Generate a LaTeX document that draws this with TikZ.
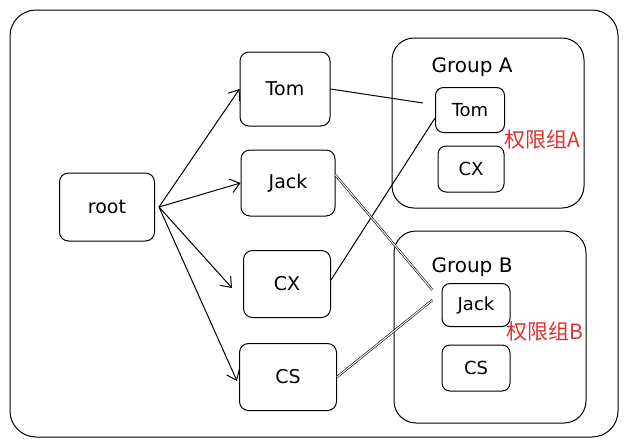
\documentclass[tikz,border=0pt]{standalone}
\usepackage{fontspec}
\setmainfont{DejaVu Sans}
\newfontfamily\cjk{Noto Sans CJK SC}
\usetikzlibrary{arrows.meta,positioning}
\definecolor{permred}{RGB}{224, 49, 49}

\begin{document}
\begin{tikzpicture}[x=1pt,y=-1pt,line width=1pt,
  card/.style={draw,rounded corners=9pt,minimum width=92pt,minimum height=68pt,font=\fontsize{19}{21}\selectfont},
  member/.style={draw,rounded corners=8pt,minimum width=68pt,minimum height=46pt,font=\fontsize{18}{20}\selectfont},
  grp/.style={draw,rounded corners=22pt},
  grptitle/.style={font=\fontsize{20}{22}\selectfont},
  permlabel/.style={text=permred,font=\cjk\fontsize{21}{23}\selectfont},
  link/.style={-{Straight Barb[length=9pt,width=14pt]}}]
\useasboundingbox (0,0) rectangle (628,445);
% outer frame
\draw[rounded corners=26pt] (10,10) rectangle (618,437);

% users
\node[card,minimum width=95pt] (root) at (107,207) {root};
\node[card,minimum width=90pt,minimum height=74pt] (tom) at (285,89) {Tom};
\node[card,minimum width=94pt,minimum height=66pt] (jack) at (288,183) {Jack};
\node[card,minimum width=87pt,minimum height=67pt] (cx) at (287,284) {CX};
\node[card,minimum width=97pt,minimum height=67pt] (cs) at (288,377) {CS};

% Group A
\node[grp,minimum width=192pt,minimum height=170pt] (groupA) at (488,123) {};
\node[grptitle] (titleA) at (472,67) {Group A};
\node[member,minimum width=69pt,minimum height=45pt] (tomA) at (470,110) {Tom};
\node[member,minimum width=66pt,minimum height=46pt] (cxA) at (471,169) {CX};
\node[permlabel] (permA) at (542,140) {权限组A};

% Group B
\node[grp,minimum width=192pt,minimum height=192pt] (groupB) at (490,327) {};
\node[grptitle] (titleB) at (472,267) {Group B};
\node[member,minimum width=68pt,minimum height=43pt] (jackB) at (476,305) {Jack};
\node[member,minimum width=68pt,minimum height=46pt] (csB) at (476,368) {CS};
\node[permlabel] (permB) at (545,332) {权限组B};

% root to users
\coordinate (out) at ([xshift=4pt]root.east);
\draw[link] (out) -- (tom.west);
\draw[link] (out) -- (jack.west);
\draw[link] (out) -- ([xshift=-11pt,yshift=-4pt]cx.west);
\draw[link] (out) -- ([xshift=-2pt,yshift=-4pt]cs.west);

% users to group members
\coordinate (endTom) at ([xshift=-12pt,yshift=7pt]tomA.west);
\draw (tom.east) -- (endTom);
\draw ([yshift=4pt]cx.east) -- ([yshift=-8pt]tomA.west);
\draw[double,double distance=1pt,line width=0.6pt] ([yshift=8pt]jack.east) -- ([xshift=-9pt,yshift=15pt]jackB.west);
\draw[double,double distance=1pt,line width=0.6pt] (cs.east) -- ([xshift=-9pt,yshift=5pt]jackB.west);
\end{tikzpicture}
\end{document}
